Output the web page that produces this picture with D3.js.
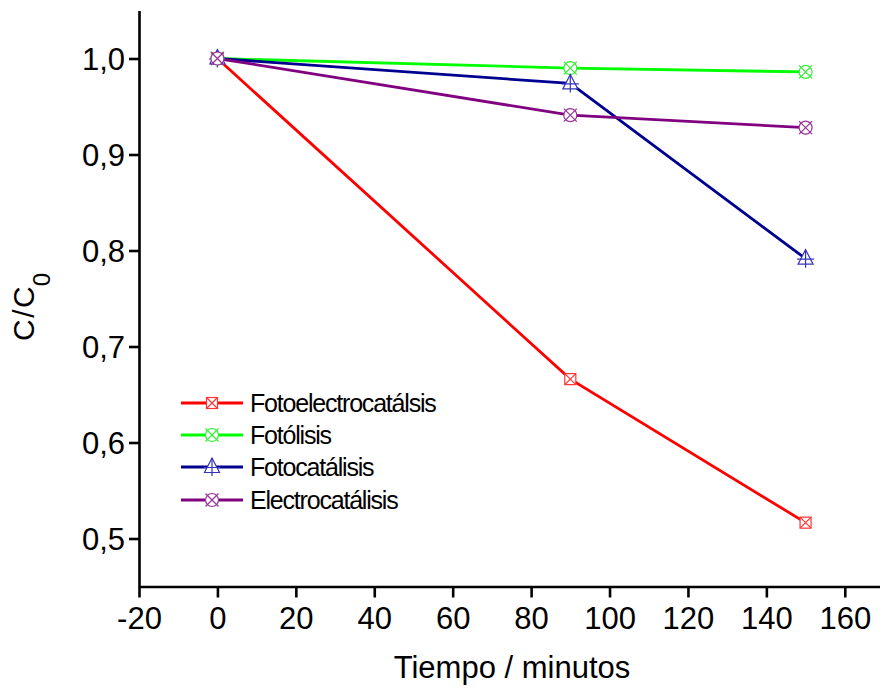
<!DOCTYPE html>
<html><head><meta charset="utf-8">
<script src="https://cdn.jsdelivr.net/npm/d3@7"></script>
<style>
html,body{margin:0;padding:0;background:#fff;}
svg{display:block;}
text{font-family:"Liberation Sans",Arial,sans-serif;fill:#000;}
</style></head>
<body><svg id="chart" width="880" height="690"></svg>
<script>
const times = [0, 90, 150];
const seriesNames = ["Fotoelectrocatálsis", "Fotólisis", "Fotocatálisis", "Electrocatálisis"];
const fotoelectro = [1.0, 0.666, 0.5165];
const fotolisis = [1.0, 0.990, 0.986];
const fotocatalisis = [1.0, 0.974, 0.7915];
const electrocatalisis = [1.0, 0.941, 0.928];
const colors = ["#ff0000", "#00ff00", "#000090", "#800080"];
const markerColors = ["#ff3333", "#33ee33", "#3333bb", "#993399"];
const markerTypes = ["squareX", "circleX", "triPlus", "circleX"];
const xTicks = [-20, 0, 20, 40, 60, 80, 100, 120, 140, 160];
const yTicks = [0.5, 0.6, 0.7, 0.8, 0.9, 1.0];

const seriesValues = [fotoelectro, fotolisis, fotocatalisis, electrocatalisis];
const svg = d3.select("#chart");
const x = d3.scaleLinear().domain([-20, 170]).range([139, 884]);
const y = d3.scaleLinear().domain([0.45, 1.05]).range([586.5, 10.5]);

// axes
const xMinor = d3.range(-20, 171, 10);
const yMinor = d3.range(0, 13).map(i => 0.45 + i * 0.05);
const gx = svg.append("g").attr("transform", "translate(0,586.5)");
gx.call(d3.axisBottom(x).tickValues(xMinor).tickSize(6).tickFormat("").tickSizeOuter(0));
gx.call(d3.axisBottom(x).tickValues(xTicks).tickSize(11).tickPadding(2).tickFormat(d => d).tickSizeOuter(0));
gx.selectAll(".domain").attr("stroke-width", 2.6);
gx.selectAll("line").attr("stroke-width", 2.6);
gx.selectAll("text").attr("font-size", 31).attr("dy", "0.95em");

const gy = svg.append("g").attr("transform", "translate(139,0)");
gy.call(d3.axisLeft(y).tickValues(yMinor).tickSize(6).tickFormat("").tickSizeOuter(0));
gy.call(d3.axisLeft(y).tickValues(yTicks).tickSize(10).tickPadding(4)
  .tickFormat(d => d3.format(".1f")(d).replace(".", ",")).tickSizeOuter(0));
gy.selectAll(".domain").attr("stroke-width", 2.6);
gy.selectAll("line").attr("stroke-width", 2.6);
gy.selectAll("text").attr("font-size", 31).attr("dy", "0.36em");
svg.selectAll(".domain").attr("stroke", "#000");

// axis titles
svg.append("text").attr("x", 512).attr("y", 678).attr("text-anchor", "middle")
  .attr("font-size", 31).text("Tiempo / minutos");
const yt = svg.append("text").attr("transform", "translate(34,307) rotate(-90)")
  .attr("text-anchor", "middle").attr("font-size", 30);
yt.append("tspan").attr("letter-spacing", 1.5).text("C/");
yt.append("tspan").text("C");
yt.append("tspan").attr("font-size", 24).attr("dy", 16).text("0");

function drawMarker(g, type, color) {
  const s = g.append("g").attr("fill", "#fff").attr("stroke", color).attr("stroke-width", 1.2);
  if (type === "squareX") {
    s.append("rect").attr("x", -5.5).attr("y", -5.5).attr("width", 11).attr("height", 11);
    s.append("path").attr("d", "M-5.5,-5.5L5.5,5.5M5.5,-5.5L-5.5,5.5");
  } else if (type === "circleX") {
    s.append("circle").attr("r", 6.5);
    s.append("path").attr("d", "M-6.5,-6.5L6.5,6.5M6.5,-6.5L-6.5,6.5");
  } else {
    s.append("path").attr("d", "M0,-9L7.5,5.5L-7.5,5.5Z");
    s.append("path").attr("d", "M0,-9L0,9M-8.5,0.5L8.5,0.5").attr("fill", "none");
  }
}

const line = d3.line().x(d => x(d[0])).y(d => y(d[1]));
seriesValues.forEach((vals, i) => {
  const pts = times.map((t, j) => [t, vals[j]]);
  svg.append("path").datum(pts).attr("d", line).attr("fill", "none")
    .attr("stroke", colors[i]).attr("stroke-width", 2.8);
});
seriesValues.forEach((vals, i) => {
  times.forEach((t, j) => {
    const g = svg.append("g").attr("transform", `translate(${x(t)},${y(vals[j])})`);
    drawMarker(g, markerTypes[i], markerColors[i]);
  });
});

// legend
const legY = [403, 435, 467, 500];
seriesNames.forEach((name, i) => {
  const g = svg.append("g").attr("transform", `translate(0,${legY[i]})`);
  g.append("line").attr("x1", 181).attr("x2", 243).attr("y1", 0).attr("y2", 0)
    .attr("stroke", colors[i]).attr("stroke-width", 2.8);
  const mg = g.append("g").attr("transform", "translate(212,0)");
  drawMarker(mg, markerTypes[i], markerColors[i]);
  g.append("text").attr("x", 250).attr("y", 0).attr("dy", "0.36em")
    .attr("font-size", 25).attr("letter-spacing", -1.2).text(name);
});
</script></body></html>
